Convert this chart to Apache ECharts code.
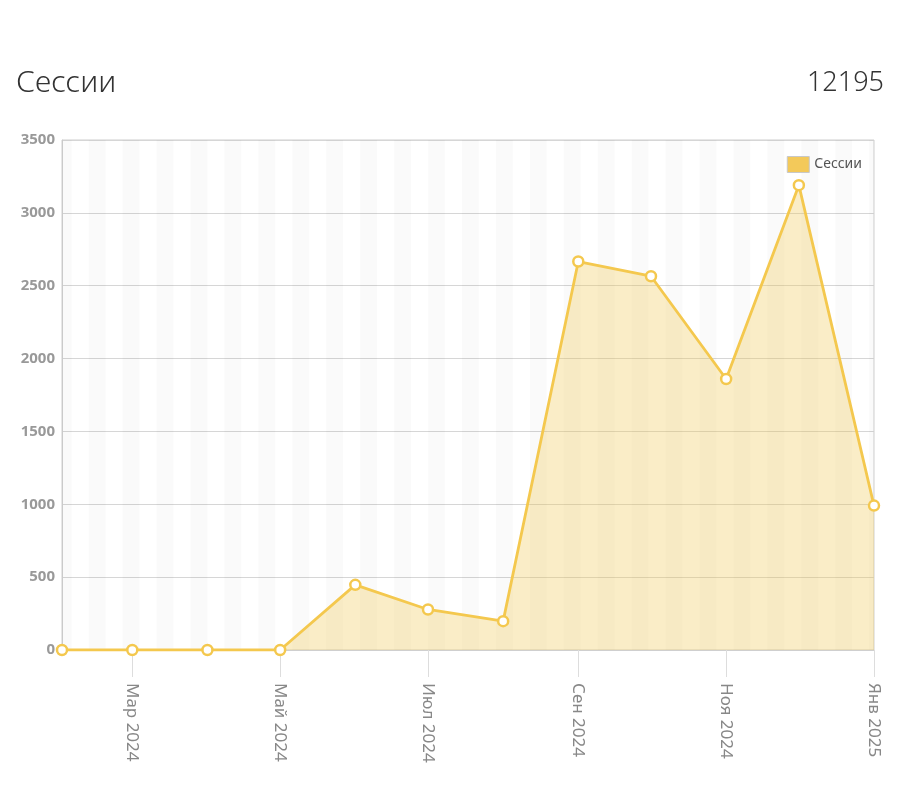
<!DOCTYPE html>
<html>
<head>
<meta charset="utf-8">
<script src="https://cdn.jsdelivr.net/npm/echarts@6/dist/echarts.min.js"></script>
<style>
html,body{margin:0;padding:0;background:#fff;}
#chart{width:911px;height:798px;}
</style>
</head>
<body>
<div id="chart"></div>
<script>
// ---- data ----
const seriesName = 'Сессии';
const totalValue = '12195';
const dates = ['2024-02-01','2024-03-01','2024-04-01','2024-05-01','2024-06-01','2024-07-01','2024-08-01','2024-09-01','2024-10-01','2024-11-01','2024-12-01','2025-01-01'];
const sessions = [0, 0, 0, 0, 447, 278, 198, 2666, 2565, 1860, 3190, 991];
const tickDates = ['2024-03-01','2024-05-01','2024-07-01','2024-09-01','2024-11-01','2025-01-01'];
const tickLabels = ['Мар 2024','Май 2024','Июл 2024','Сен 2024','Ноя 2024','Янв 2025'];
const yTicks = [0, 500, 1000, 1500, 2000, 2500, 3000, 3500];

function toTs(s){ const p = s.split('-').map(Number); return new Date(p[0], p[1]-1, p[2]).getTime(); }
const xMin = toTs(dates[0]);
const xMax = toTs(dates[dates.length-1]);
const tickTs = tickDates.map(toTs);
const labelMap = {};
tickTs.forEach((t,i)=>{ labelMap[t] = tickLabels[i]; });

// weekly alternating background bands (Monday-aligned)
const bands = [];
const DAY = 86400000;
let wk = new Date(2024, 0, 29).getTime();
let idx = 0;
while (wk < xMax) {
  const nxt = wk + 7*DAY;
  if (idx % 2 === 0) {
    bands.push([{xAxis: Math.max(wk, xMin)}, {xAxis: Math.min(nxt, xMax)}]);
  }
  wk = nxt; idx++;
}

const chart = echarts.init(document.getElementById('chart'), null, {renderer:'canvas'});
const FONT = '"Noto Sans", "Open Sans", sans-serif';
chart.setOption({
  animation: false,
  textStyle: {fontFamily: FONT},
  title: [
    {text: seriesName, left: 16, top: 68, padding: 0, textStyle:{fontFamily: FONT, fontSize: 30, fontWeight: 300, color:'#333'}},
    {text: totalValue, right: 27, top: 70, padding: 0, textStyle:{fontFamily: FONT, fontSize: 27, fontWeight: 300, color:'#333'}}
  ],
  legend: {
    data: [{name: seriesName, itemStyle: {color:'#f3c95a', borderColor:'#c8c8c8', borderWidth:1}}],
    right: 44, top: 151,
    itemWidth: 22, itemHeight: 16, itemGap: 8,
    icon: 'rect',
    textStyle: {fontFamily: FONT, fontSize: 14, color:'#555'}
  },
  grid: {left: 62, right: 37, top: 140, bottom: 148, show: true, borderColor:'#cfcfcf', borderWidth:1, backgroundColor:'#fff'},
  xAxis: {
    type: 'value',
    min: xMin, max: xMax,
    axisLine: {show: true, lineStyle:{color:'#cfcfcf'}},
    axisTick: {show: true, length: 27, lineStyle:{color:'#dddddd', width:1}, customValues: tickTs},
    splitLine: {show: false},
    axisLabel: {
      customValues: tickTs,
      rotate: -90,
      margin: 33,
      color: '#888',
      fontFamily: FONT,
      fontSize: 17,
      hideOverlap: false,
      formatter: function(v){ return labelMap[v] || ''; }
    }
  },
  yAxis: {
    type: 'value',
    min: yTicks[0], max: yTicks[yTicks.length-1], interval: 500,
    axisLine: {show: true, lineStyle:{color:'#cfcfcf'}},
    axisTick: {show: false},
    splitLine: {show: true, lineStyle:{color:'#d6d6d6', width:1}},
    axisLabel: {color:'#999', fontFamily: FONT, fontSize: 15, fontWeight: 'bold', margin: 7,
      formatter: function(v){ return String(v); }}
  },
  series: [{
    name: seriesName,
    type: 'line',
    data: dates.map((d,i)=>[toTs(d), sessions[i]]),
    symbol: 'circle',
    symbolSize: 10,
    lineStyle: {color:'#f4c84e', width: 2.8},
    itemStyle: {color:'#ffffff', borderColor:'#f4c84e', borderWidth: 2.5},
    areaStyle: {color:'rgba(240,205,95,0.5)'},
    markArea: {
      silent: true,
      itemStyle: {color:'rgba(0,0,0,0.02)'},
      data: bands
    },
    z: 3
  }]
});
</script>
</body>
</html>
